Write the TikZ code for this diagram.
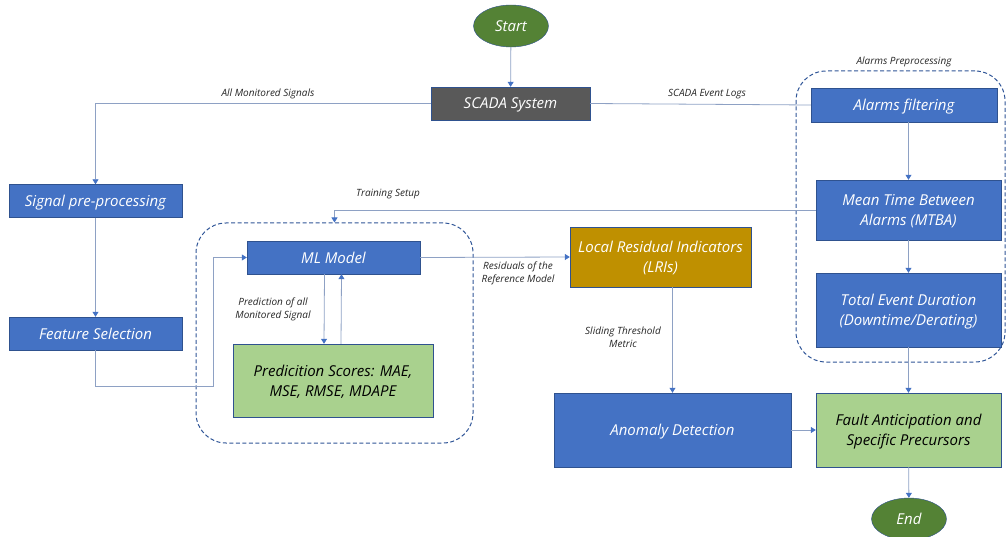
\documentclass[tikz,border=0pt]{standalone}
\usepackage{fontspec}
\setmainfont{Open Sans}
\usepackage{tikz}
\usetikzlibrary{arrows.meta,positioning,shapes.geometric}

\definecolor{boxblue}{HTML}{4472C4}
\definecolor{edgeblue}{HTML}{2F528F}
\definecolor{scadagray}{HTML}{595959}
\definecolor{lrigold}{HTML}{BF9000}
\definecolor{scoregreen}{HTML}{A9D18E}
\definecolor{termgreen}{HTML}{548235}
\definecolor{linkgray}{HTML}{8EA1C4}
\definecolor{dashblue}{HTML}{2F5597}

\begin{document}
\begin{tikzpicture}[x=1pt,y=-1pt,
    proc/.style={draw=edgeblue, fill=boxblue, text=white, inner sep=0pt, align=center,
        text depth=-1pt, font=\itshape\fontsize{15}{20}\selectfont},
    result/.style={proc, fill=scoregreen, text=black},
    term/.style={ellipse, draw=edgeblue, fill=termgreen, text=white, inner sep=0pt,
        text depth=0pt, minimum width=75pt, minimum height=42pt,
        font=\itshape\fontsize{15}{18}\selectfont},
    group/.style={draw=dashblue, dash pattern=on 4pt off 2.5pt, line width=1pt,
        rounded corners=30pt},
    link/.style={draw=linkgray, line width=0.8pt, -{Triangle[width=6pt,length=5pt,color=boxblue]}},
    line/.style={draw=linkgray, line width=0.8pt},
    tag/.style={font=\itshape\fontsize{10}{13}\selectfont, text=black!85, align=center}]

    \useasboundingbox (0,0) rectangle (1006,537);

    % terminals
    \node[term] (start) at (511,26) {Start};
    \node[term] (end) at (909,519) {End};

    % left branch
    \node[proc, fill=scadagray, minimum width=159pt, minimum height=33pt] (scada) at (510.5,103.5) {SCADA System};
    \node[proc, minimum width=173pt, minimum height=33pt] (sigpre) at (95.5,201) {Signal pre-processing};
    \node[proc, minimum width=173pt, minimum height=33pt] (featsel) at (95.5,333.5) {Feature Selection};

    % training group
    \node[group, minimum width=277pt, minimum height=220pt] (trainbox) at (334.5,333) {};
    \node[proc, minimum width=173pt, minimum height=33pt] (mlmodel) at (333.5,257.5) {ML Model};
    \node[result, minimum width=200pt, minimum height=73pt] (scores) at (333,380.5)
        {Predicition Scores: MAE,\\MSE, RMSE, MDAPE};

    % residual path
    \node[proc, fill=lrigold, minimum width=181pt, minimum height=60pt] (lri) at (660.5,257)
        {Local Residual Indicators\\(LRIs)};
    \node[proc, minimum width=237pt, minimum height=74pt] (anomaly) at (672.5,430) {Anomaly Detection};
    \node[result, minimum width=185pt, minimum height=74pt] (fault) at (908.5,430)
        {Fault Anticipation and\\Specific Precursors};

    % alarms group
    \node[group, minimum width=209pt, minimum height=291pt] (alarmbox) at (900.5,216.5) {};
    \node[proc, minimum width=186pt, minimum height=34pt] (alarmf) at (904,105) {Alarms filtering};
    \node[proc, minimum width=185pt, minimum height=60pt] (mtba) at (908.5,210)
        {Mean Time Between\\Alarms (MTBA)};
    \node[proc, minimum width=185pt, minimum height=74pt] (total) at (908.5,310)
        {Total Event Duration\\(Downtime/Derating)};

    % connectors
    \draw[link] (start) -- (scada);
    \draw[link] (scada.west) -| (sigpre.north);
    \draw[line] (scada.east) -- (alarmf.west);
    \draw[link] (sigpre) -- (featsel);
    \draw[link] (featsel.south) -- ++(0,36) -| ([xshift=-33pt]mlmodel.west) -- (mlmodel.west);
    \draw[link] ([xshift=-9pt]mlmodel.south) -- ([xshift=-9pt]scores.north);
    \draw[link] ([xshift=8pt]scores.north) -- ([xshift=8pt]mlmodel.south);
    \draw[link] (mlmodel.east) -- (lri.west);
    \draw[link] (mtba.west) -| (trainbox.north);
    \draw[link] (anomaly.north |- lri.south) -- (anomaly.north);
    \draw[link] (anomaly) -- (fault);
    \draw[link] (mtba.north |- alarmf.south) -- (mtba.north);
    \draw[link] (mtba) -- (total);
    \draw[link] (total) -- (fault);
    \draw[link] (fault) -- (end);

    % connector labels
    \node[tag] (lblsig) at (268,94) {All Monitored Signals};
    \node[tag] (lbllog) at (707,94) {SCADA Event Logs};
    \node[tag] (lbltrain) at (388,194) {Training Setup};
    \node[tag] (lblpred) at (273,309) {Prediction of all\\Monitored Signal};
    \node[tag] (lblres) at (518,273) {Residuals of the\\Reference Model};
    \node[tag] (lblslide) at (623,337) {Sliding Threshold\\Metric};
    \node[tag] (lblalarm) at (904,62) {Alarms Preprocessing};
\end{tikzpicture}
\end{document}
